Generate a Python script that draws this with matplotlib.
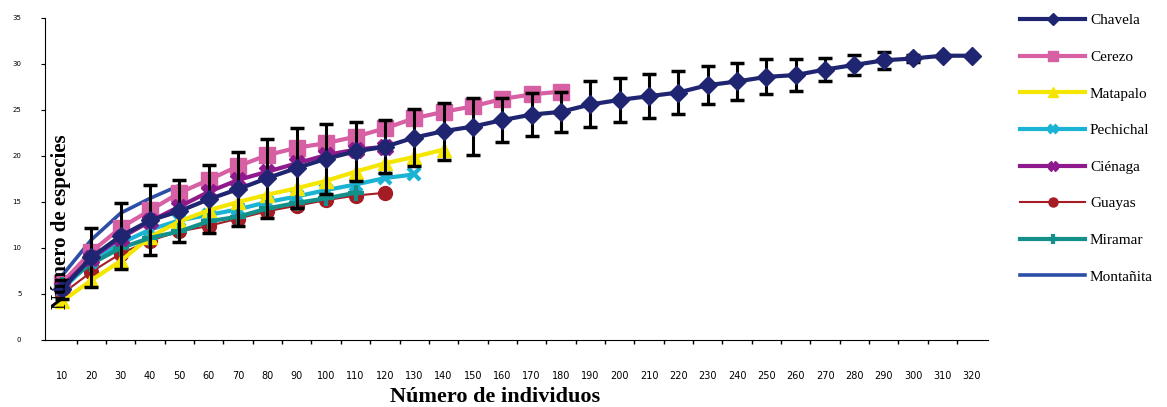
import numpy as np
import matplotlib
matplotlib.use('Agg')
import matplotlib.pyplot as plt
from matplotlib.lines import Line2D

# Data
individuos = [10, 20, 30, 40, 50, 60, 70, 80, 90, 100, 110, 120, 130, 140, 150, 160,
              170, 180, 190, 200, 210, 220, 230, 240, 250, 260, 270, 280, 290, 300, 310, 320]

chavela = [5.5, 9.0, 11.3, 13.0, 14.0, 15.3, 16.4, 17.6, 18.7, 19.7, 20.5, 21.0, 22.0, 22.7,
           23.2, 23.9, 24.5, 24.8, 25.6, 26.1, 26.5, 26.9, 27.7, 28.1, 28.6, 28.8, 29.4, 29.9,
           30.4, 30.6, 30.9, 30.9]
chavela_err = [1.0, 3.2, 3.6, 3.8, 3.4, 3.7, 4.0, 4.3, 4.3, 3.8, 3.2, 2.9, 3.1, 3.1,
               3.1, 2.4, 2.3, 2.2, 2.5, 2.4, 2.4, 2.35, 2.1, 2.0, 1.9, 1.7, 1.3, 1.05,
               0.9, 0.4, 0.0, 0.0]
cerezo = [6.2, 9.6, 12.2, 14.1, 16.0, 17.4, 18.9, 20.1, 20.9, 21.4, 22.1, 23.0, 24.1, 24.8,
          25.4, 26.2, 26.7, 27.0]
matapalo = [4.2, 6.5, 8.6, 11.2, 12.9, 14.1, 15.0, 15.8, 16.5, 17.3, 18.3, 19.2, 19.9, 20.7]
pechichal = [5.5, 8.5, 10.5, 12.0, 13.0, 13.6, 14.2, 15.0, 15.6, 16.3, 16.9, 17.6, 18.0]
cienaga = [5.8, 8.9, 11.1, 12.9, 14.5, 16.1, 17.4, 18.3, 19.2, 20.1, 20.7, 21.0]
guayas = [5.0, 7.4, 9.4, 10.8, 11.8, 12.4, 13.2, 14.0, 14.6, 15.2, 15.7, 16.0]
miramar = [6.0, 8.3, 10.0, 11.1, 11.8, 12.9, 13.4, 14.3, 14.9, 15.4, 16.0]
montanita = [7.0, 10.9, 13.8, 15.4, 16.8]

labels = ['Chavela', 'Cerezo', 'Matapalo', 'Pechichal', 'Ciénaga', 'Guayas', 'Miramar', 'Montañita']
colors = ['#1f2570', '#d75fa3', '#f5e600', '#1bb3d3', '#8e1a8e', '#a51c24', '#14908a', '#2d4ea6']

serif = ['Liberation Serif', 'DejaVu Serif']

fig = plt.figure(figsize=(11.67, 4.07), dpi=100)
ax = fig.add_axes([45 / 1167, 67 / 407, 943 / 1167, 322 / 407])

x = np.arange(len(individuos))

ax.plot(x[:len(montanita)], montanita, color=colors[7], lw=2.6, label=labels[7], zorder=3)
ax.plot(x[:len(miramar)], miramar, color=colors[6], lw=3, marker='+', ms=12, mew=3,
        label=labels[6], zorder=4)
ax.plot(x[:len(guayas)], guayas, color=colors[5], lw=1.5, marker='o', ms=10,
        label=labels[5], zorder=3)
ax.plot(x[:len(cienaga)], cienaga, color=colors[4], lw=3, marker='X', ms=11,
        label=labels[4], zorder=4)
ax.plot(x[:len(pechichal)], pechichal, color=colors[3], lw=3, marker='x', ms=9, mew=3,
        label=labels[3], zorder=3)
ax.plot(x[:len(matapalo)], matapalo, color=colors[2], lw=3, marker='^', ms=10,
        label=labels[2], zorder=3)
ax.plot(x[:len(cerezo)], cerezo, color=colors[1], lw=3, marker='s', ms=11,
        label=labels[1], zorder=3)
ax.errorbar(x, chavela, yerr=chavela_err, color=colors[0], lw=3, marker='D', ms=9,
            ecolor='black', elinewidth=2.2, capsize=5, capthick=2.5, zorder=5)

ax.set_xlim(-0.58, 31.55)
ax.set_ylim(0, 35)
ax.set_yticks(range(0, 36, 5))
ax.set_xticks(x)
ax.set_xticklabels([str(v) for v in individuos], fontsize=7)
ax.set_xticks(x[:-1] + 0.5, minor=True)
ax.tick_params(axis='x', which='major', length=0, pad=22)
ax.tick_params(axis='x', which='minor', length=3, width=1, direction='out')
ax.tick_params(axis='y', length=3, labelsize=5, pad=14)
for s in ['top', 'right']:
    ax.spines[s].set_visible(False)

fig.text(495 / 1167, 1 - 397 / 407, 'Número de individuos', ha='center', va='center',
         fontsize=16, fontweight='bold', family=serif)
fig.text(61 / 1167, 1 - 222 / 407, 'Número de especies', ha='center', va='center',
         rotation=90, fontsize=15, fontweight='bold', family=serif)

handles, labs = ax.get_legend_handles_labels()
chavela_handle = Line2D([], [], color=colors[0], lw=3, marker='D', ms=9)
all_handles = [chavela_handle] + [handles[labs.index(l)] for l in labels[1:]]
leg = fig.legend(all_handles, labels,
                 loc='upper left', bbox_to_anchor=(1006 / 1167, 1.0), frameon=False,
                 prop={'family': serif, 'size': 11}, handlelength=4.3,
                 labelspacing=1.5, markerscale=0.65, handletextpad=0.3)

plt.savefig('out.png', dpi=100)
